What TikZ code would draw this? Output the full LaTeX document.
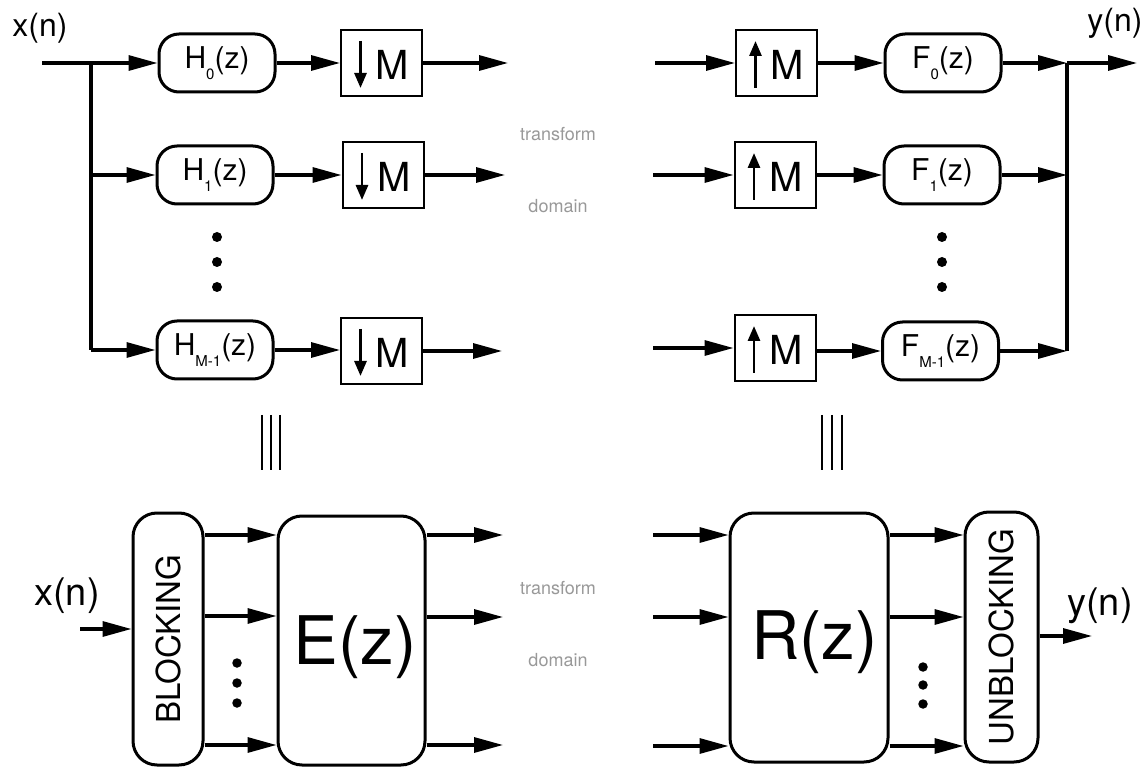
\documentclass[tikz,border=0pt]{standalone}
\usepackage{fontspec}
\setmainfont{TeX Gyre Heros}
\usetikzlibrary{arrows.meta}
\newcommand{\fs}[1]{\fontsize{#1}{#1}\selectfont}
\newcommand{\lowsub}[1]{\raisebox{-11pt}{\fs{15}#1}}
\begin{document}
\begin{tikzpicture}[x=1pt,y=-1pt,
  conn/.style={line width=3.2pt,-{Triangle[length=29pt,width=15pt]}},
  plain/.style={line width=3.2pt},
  filt/.style={draw,line width=3pt,rounded corners=20pt,minimum width=116pt,minimum height=58pt,inner sep=0pt,font=\fs{30}},
  rate/.style={draw,line width=2pt,minimum width=81pt,minimum height=66pt,inner sep=0pt},
  mlab/.style={font=\fs{40},inner sep=0pt},
  tall/.style={draw,line width=3pt,rounded corners=24pt,inner sep=0pt},
  lab/.style={font=\fs{32},inner sep=0pt},
  biglab/.style={font=\fs{67},inner sep=0pt},
  graylab/.style={font=\fs{18},text=black!40,inner sep=0pt},
  bigdot/.style={circle,fill,inner sep=0pt,minimum size=10pt},
  smalldot/.style={circle,fill,inner sep=0pt,minimum size=9.5pt},
  ratearrow/.style={line width=2.8pt,-{Triangle[length=15pt,width=12pt]}},
  eqbar/.style={line width=2pt}
]
\useasboundingbox (0,0) rectangle (1144,767);

% ---------------- top left: analysis bank
\node[lab] (x1) at (40,28) {x(n)};
\coordinate (in1) at (42,63);
\coordinate (j1) at (91,63);
\coordinate (j1b) at (91,350);
\node[filt] (h0) at (217,63) {H\lowsub{0}(z)};
\node[filt] (h1) at (215,175) {H\lowsub{1}(z)};
\node[filt] (h2) at (215,350) {H\lowsub{M-1}(z)};
\draw[plain] (in1) -- (j1) -- (j1b);
\draw[conn] (j1) -- (h0.west);
\draw[conn] (j1 |- h1.west) -- (h1.west);
\draw[conn] (j1b) -- (h2.west);

\foreach \n/\x/\y in {d0/381.5/63, d1/383/175, d2/381.5/351}{
  \node[rate] (\n) at (\x,\y) {};
  \node[mlab] at ([xshift=11pt,yshift=-2pt]\n.center) {M};
  \draw[ratearrow] ([xshift=-21pt,yshift=22pt]\n.center) -- ([xshift=-21pt,yshift=-25pt]\n.center);
}
\draw[conn] (h0.east) -- (h0.east -| d0.west);
\draw[conn] (h1.east) -- (h1.east -| d1.west);
\draw[conn] (h2.east) -- (h2.east -| d2.west);
\coordinate (o0) at (508,63);
\coordinate (o1) at (505,175);
\coordinate (o2) at (502,351);
\draw[conn] (d0.east |- o0) -- (o0);
\draw[conn] (d1.east |- o1) -- (o1);
\draw[conn] (d2.east |- o2) -- (o2);
\node[bigdot] (ld1) at (217,237) {};
\node[bigdot] (ld2) at (217,262) {};
\node[bigdot] (ld3) at (217,287) {};

% ---------------- top middle
\node[graylab] (t1) at (558,134) {transform};
\node[graylab] (t2) at (558,206) {domain};

% ---------------- top right: synthesis bank
\coordinate (ui0) at (655,63);
\coordinate (ui1) at (653,175);
\coordinate (ui2) at (653,348);
\foreach \n/\x/\y in {u0/776.5/63, u1/775/175, u2/775/348}{
  \node[rate] (\n) at (\x,\y) {};
  \node[mlab] at ([xshift=11pt,yshift=-2pt]\n.center) {M};
  \draw[ratearrow] ([xshift=-21pt,yshift=-25pt]\n.center) -- ([xshift=-21pt,yshift=22pt]\n.center);
}
\draw[conn] (ui0) -- (u0.west |- ui0);
\draw[conn] (ui1) -- (u1.west |- ui1);
\draw[conn] (ui2) -- (u2.west |- ui2);
\node[filt] (f0) at (943,63) {F\lowsub{0}(z)};
\node[filt] (f1) at (942,175) {F\lowsub{1}(z)};
\node[filt] (f2) at (940.5,351) {F\lowsub{M-1}(z)};
\draw[conn] (u0.east |- f0.west) -- (f0.west);
\draw[conn] (u1.east |- f1.west) -- (f1.west);
\draw[conn] (u2.east |- f2.west) -- (f2.west);
\coordinate (j2) at (1067,63);
\coordinate (j2b) at (1067,351);
\draw[plain] (j2) -- (j2b);
\draw[conn] (f0.east) -- (j2);
\draw[conn] (f1.east) -- (f1.east -| j2);
\draw[conn] (f2.east) -- (j2b);
\coordinate (yo1) at (1137,63);
\draw[conn] (j2) -- (yo1);
\node[lab] (y1) at (1115,23) {y(n)};
\node[bigdot] (rd1) at (942,237) {};
\node[bigdot] (rd2) at (942,262) {};
\node[bigdot] (rd3) at (942,287) {};

% ---------------- equivalence signs
\draw[eqbar] (262,415) -- (262,470);
\draw[eqbar] (271,415) -- (271,470);
\draw[eqbar] (280,415) -- (280,470);
\draw[eqbar] (822,415) -- (822,470);
\draw[eqbar] (832,415) -- (832,470);
\draw[eqbar] (842,415) -- (842,470);

% ---------------- bottom left: polyphase analysis
\coordinate (ra) at (0,535);
\coordinate (rb) at (0,616);
\coordinate (rc) at (0,745);
\node[tall,minimum width=70pt,minimum height=252pt] (blk) at (168,639) {\rotatebox{90}{\fs{33}BLOCKING}};
\node[tall,minimum width=147pt,minimum height=249pt] (E) at (351.5,640.5) {};
\node[biglab] (Et) at (355,647) {E(z)};
\node[lab,font=\fs{38}] (x2) at (67,596) {x(n)};
\coordinate (xin) at (80,629);
\draw[conn] (xin) -- (blk.west |- xin);
\draw[conn] (blk.east |- ra) -- (E.west |- ra);
\draw[conn] (blk.east |- rb) -- (E.west |- rb);
\draw[conn] (blk.east |- rc) -- (E.west |- rc);
\coordinate (eo1) at (503,535);
\coordinate (eo2) at (503,617);
\coordinate (eo3) at (503,745);
\draw[conn] (E.east |- eo1) -- (eo1);
\draw[conn] (E.east |- eo2) -- (eo2);
\draw[conn] (E.east |- eo3) -- (eo3);
\node[smalldot] (bd1) at (237,663) {};
\node[smalldot] (bd2) at (237,683) {};
\node[smalldot] (bd3) at (237,703) {};

% ---------------- bottom middle
\node[graylab] (t3) at (558,588) {transform};
\node[graylab] (t4) at (558,660) {domain};

% ---------------- bottom right: polyphase synthesis
\node[tall,minimum width=158pt,minimum height=249pt] (R) at (809,637.5) {};
\node[biglab] (Rt) at (814.5,642) {R(z)};
\node[tall,minimum width=73pt,minimum height=250pt] (unb) at (1001.5,637) {\rotatebox{90}{\fs{33}UNBLOCKING}};
\coordinate (ri1) at (653,535);
\coordinate (ri2) at (653,617);
\coordinate (ri3) at (653,746);
\draw[conn] (ri1) -- (R.west |- ri1);
\draw[conn] (ri2) -- (R.west |- ri2);
\draw[conn] (ri3) -- (R.west |- ri3);
\draw[conn] (R.east |- ri1) -- (unb.west |- ri1);
\draw[conn] (R.east |- ri2) -- (unb.west |- ri2);
\draw[conn] (R.east |- ri3) -- (unb.west |- ri3);
\coordinate (yo2) at (1092,636);
\draw[conn] (unb.east |- yo2) -- (yo2);
\node[lab,font=\fs{38}] (y2) at (1100,606) {y(n)};
\node[smalldot] (bd4) at (923,667) {};
\node[smalldot] (bd5) at (923,685) {};
\node[smalldot] (bd6) at (923,704) {};
\end{tikzpicture}
\end{document}
